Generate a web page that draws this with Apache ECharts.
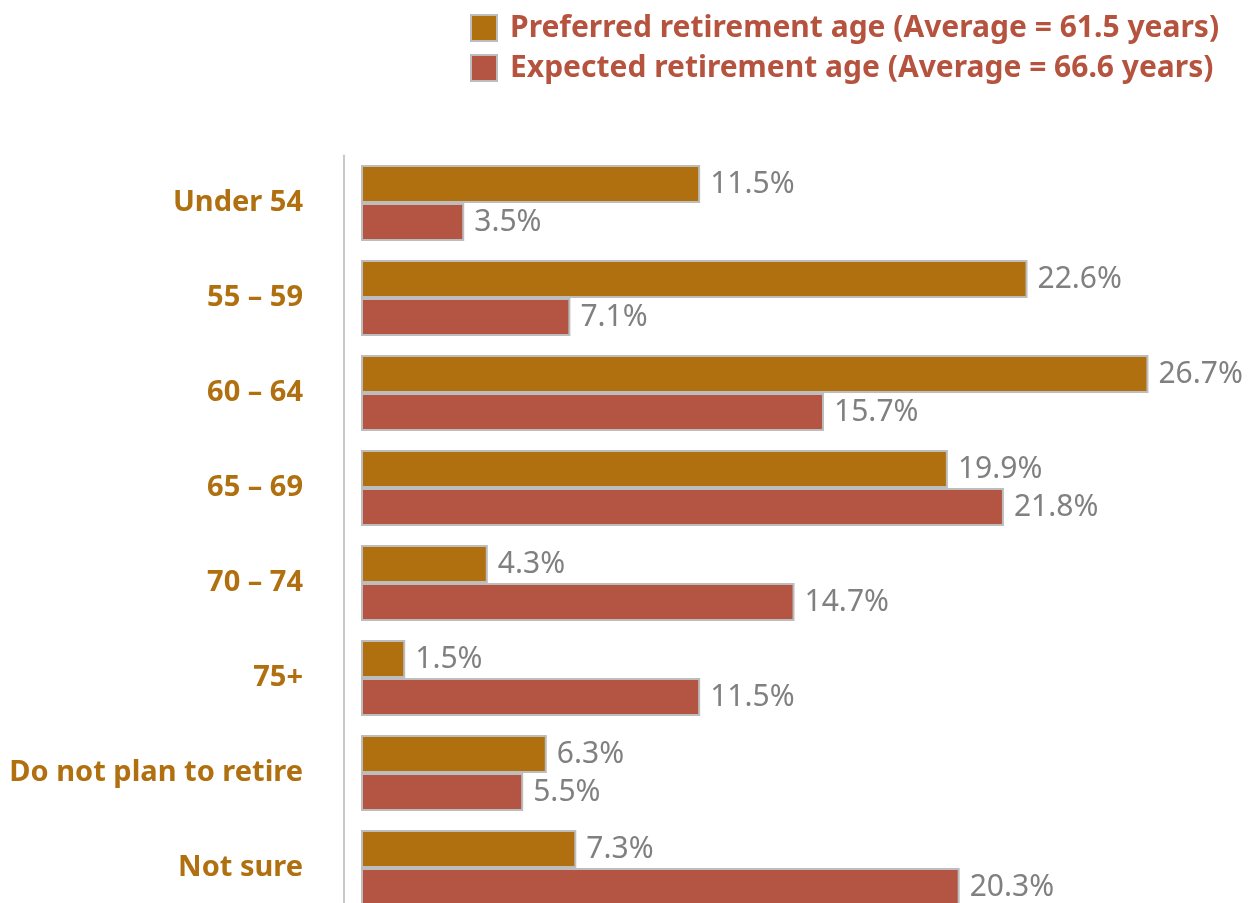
<!DOCTYPE html>
<html><head><meta charset="utf-8">
<script src="https://cdn.jsdelivr.net/npm/echarts@6/dist/echarts.min.js"></script>
<style>html,body{margin:0;padding:0;background:#fff}#c{width:1251px;height:903px}</style>
</head><body><div id="c"></div>
<script>
const categories = ['Under 54', '55 – 59', '60 – 64', '65 – 69', '70 – 74', '75+', 'Do not plan to retire', 'Not sure'];
const preferred = [11.5, 22.6, 26.7, 19.9, 4.3, 1.5, 6.3, 7.3];
const expected = [3.5, 7.1, 15.7, 21.8, 14.7, 11.5, 5.5, 20.3];
const seriesNames = ['Preferred retirement age (Average = 61.5 years)', 'Expected retirement age (Average = 66.6 years)'];

const FONT = '"Noto Sans", sans-serif';
const chart = echarts.init(document.getElementById('c'));
const lbl = {show: true, position: 'right', distance: 10, formatter: p => p.value.toFixed(1) + '%', color: '#808080', fontSize: 30, fontFamily: FONT};
chart.setOption({
  animation: false,
  legend: {
    orient: 'vertical', left: 470, top: 13, padding: 0, itemWidth: 26, itemHeight: 26, itemGap: 10, icon: 'rect',
    textStyle: {color: '#B5533F', fontSize: 30, fontWeight: 'bold', fontFamily: FONT, padding: [0, 0, 0, 8]},
    data: seriesNames
  },
  grid: {left: 361, top: 155.5, width: 870, height: 760, outerBoundsMode: 'none', containLabel: false},
  xAxis: {type: 'value', min: 0, max: 29.5, show: false},
  yAxis: {
    type: 'category', data: categories, inverse: true, offset: 17,
    axisLine: {show: true, onZero: false, lineStyle: {color: '#c8c8c8', width: 2}},
    axisTick: {show: false},
    axisLabel: {color: '#B0700F', fontSize: 29, fontWeight: 'bold', fontFamily: FONT, margin: 41}
  },
  series: [
    {name: seriesNames[0], type: 'bar', data: preferred, barWidth: 38, barGap: '0%',
     itemStyle: {color: '#B0700F', borderColor: '#bdbdbd', borderWidth: 2}, label: lbl},
    {name: seriesNames[1], type: 'bar', data: expected, barWidth: 38, barGap: '0%',
     itemStyle: {color: '#B45442', borderColor: '#bdbdbd', borderWidth: 2}, label: lbl}
  ]
});
</script></body></html>
